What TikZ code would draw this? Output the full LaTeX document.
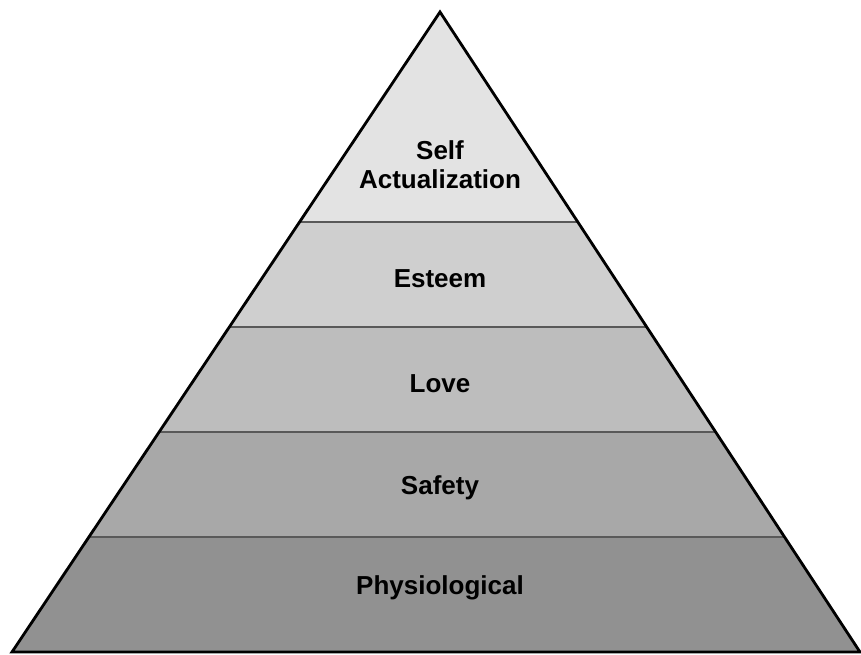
\documentclass[tikz,border=0pt]{standalone}
\usepackage{fontspec}
\setmainfont{Liberation Sans}
\usetikzlibrary{positioning}

\begin{document}
\begin{tikzpicture}[
    x=1pt, y=-1pt,
    level/.style={font=\fontsize{26}{29}\selectfont\bfseries, text=black, align=center},
    sep/.style={draw=black!65, line width=1.6pt},
    edge/.style={draw=black, line width=2.8pt, line join=miter}
]
\useasboundingbox (0,0) rectangle (861,654);

% corners of the pyramid
\coordinate (apex) at (440,12);
\coordinate (bl) at (12,652);
\coordinate (br) at (860,652);

% bands
\begin{scope}
    \clip (apex) -- (bl) -- (br) -- cycle;
    \fill[black!11] (0,0) rectangle (861,222);
    \fill[black!19] (0,222) rectangle (861,327);
    \fill[black!26] (0,327) rectangle (861,432);
    \fill[black!34] (0,432) rectangle (861,537);
    \fill[black!43] (0,537) rectangle (861,654);
    \draw[sep] (0,222) -- (861,222);
    \draw[sep] (0,327) -- (861,327);
    \draw[sep] (0,432) -- (861,432);
    \draw[sep] (0,537) -- (861,537);
\end{scope}

\draw[edge] (apex) -- (bl) -- (br) -- cycle;

% labels
\node[level] (self) at (440,165) {Self\\Actualization};
\node[level] (esteem) at (440,279) {Esteem};
\node[level] (love) at (440,384) {Love};
\node[level] (safety) at (440,488) {Safety};
\node[level] (phys) at (440,588) {Physiological};

\end{tikzpicture}
\end{document}
